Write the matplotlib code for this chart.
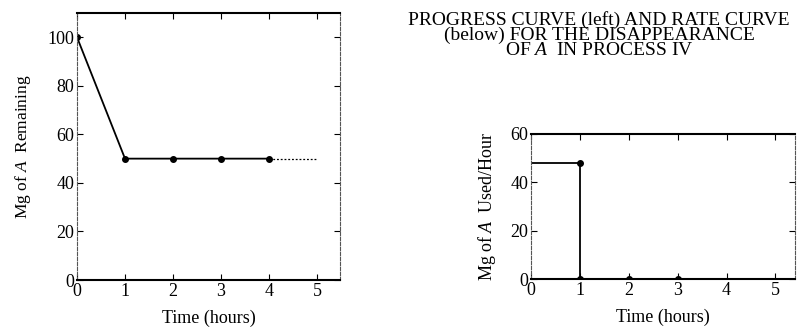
import matplotlib.pyplot as plt

plt.rcParams["font.family"] = ["Liberation Serif", "DejaVu Serif"]
plt.rcParams["mathtext.fontset"] = "custom"
plt.rcParams["mathtext.it"] = "Liberation Serif:italic"
plt.rcParams["mathtext.rm"] = "Liberation Serif"

# progress curve (left)
hours = [0, 1, 2, 3, 4]
remaining = [100, 50, 50, 50, 50]
extend_hours = [4, 5]
extend_remaining = [50, 50]

# rate curve (right)
rate_hours = [0, 1, 1, 2, 3]
rate_used = [48, 48, 0, 0, 0]
rate_pts_x = [1, 1, 2, 3]
rate_pts_y = [48, 0, 0, 0]

fig = plt.figure(figsize=(7.99, 3.28), dpi=100)
fs = 13


def style_axes(ax):
    ax.tick_params(direction="in", length=4, width=0.8, labelsize=fs,
                   top=True, right=True, pad=2)
    for side in ["top", "bottom"]:
        ax.spines[side].set_linewidth(1.5)
    for side in ["left", "right"]:
        ax.spines[side].set_linewidth(0.8)
        ax.spines[side].set_color("#555555")
        ax.spines[side].set_linestyle((0, (3, 1.5)))


ax1 = fig.add_axes([0.0964, 0.1463, 0.3291, 0.8141])
ax1.plot(hours, remaining, color="black", lw=1.3, marker="o", ms=4)
ax1.plot(extend_hours, extend_remaining, color="black", lw=0.9, ls=(0, (1.5, 1.5)))
ax1.set_xlim(0, 5.48)
ax1.set_ylim(0, 110)
ax1.set_xticks([0, 1, 2, 3, 4, 5])
ax1.set_yticks([0, 20, 40, 60, 80, 100])
ax1.set_xlabel("Time (hours)", fontsize=fs, labelpad=7)
ax1.set_ylabel(r"Mg of $\mathit{A}$  Remaining", fontsize=fs - 0.5, labelpad=10)
style_axes(ax1)

ax2 = fig.add_axes([0.6646, 0.149, 0.3304, 0.4425])
ax2.plot(rate_hours, rate_used, color="black", lw=1.3)
ax2.plot(rate_pts_x, rate_pts_y, color="black", lw=0, marker="o", ms=4)
ax2.set_xlim(0, 5.4)
ax2.set_ylim(0, 60)
ax2.set_xticks([0, 1, 2, 3, 4, 5])
ax2.set_yticks([0, 20, 40, 60])
ax2.set_xlabel("Time (hours)", fontsize=fs, labelpad=7)
ax2.set_ylabel(r"Mg of $\mathit{A}$  Used/Hour", fontsize=fs, labelpad=9)
style_axes(ax2)

fig.text(0.75, 0.965, "PROGRESS CURVE (left) AND RATE CURVE\n"
         "(below) FOR THE DISAPPEARANCE\n"
         r"OF $\mathit{A}$  IN PROCESS IV",
         ha="center", va="top", fontsize=14, linespacing=0.82)

fig.savefig("out.png", dpi=100)
